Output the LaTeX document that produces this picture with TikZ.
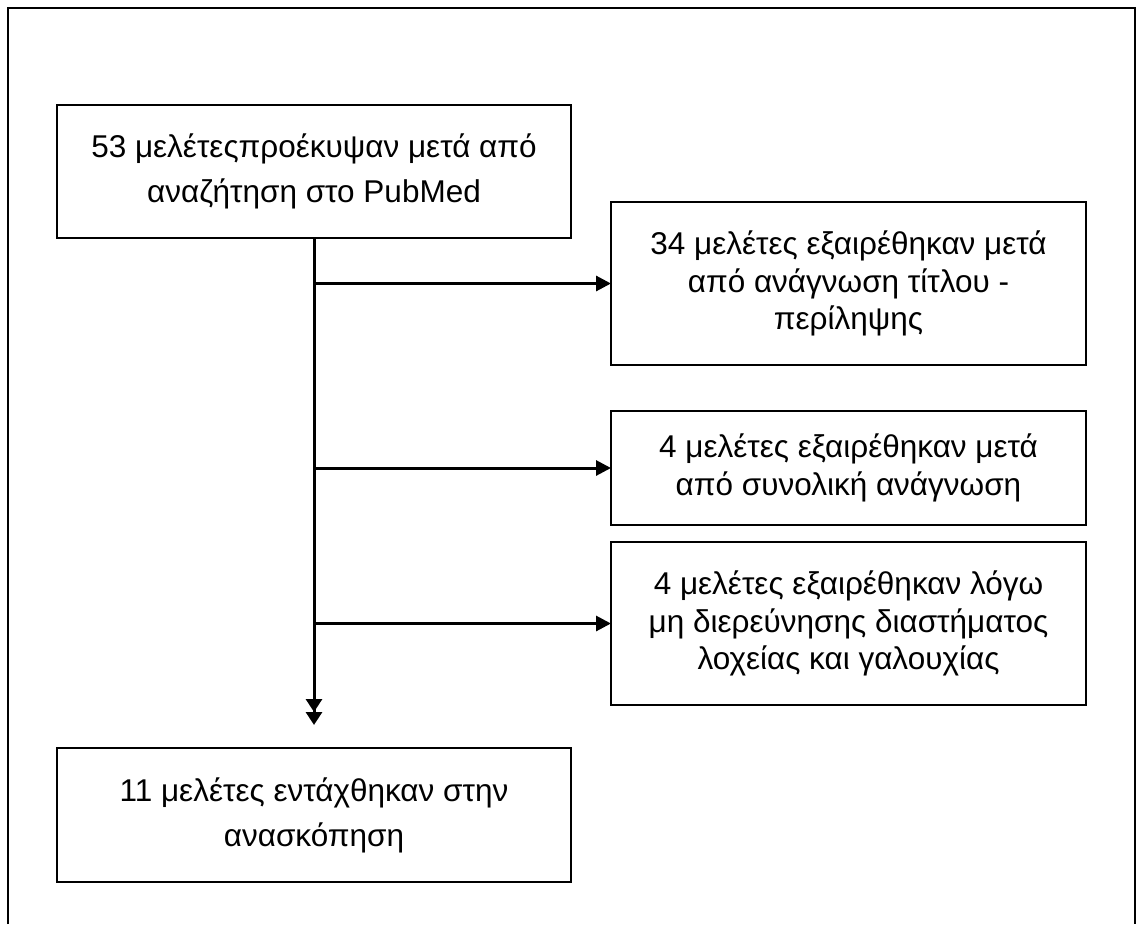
\documentclass[tikz,border=0pt]{standalone}
\usepackage{fontspec}
\setmainfont{Liberation Sans}
\usetikzlibrary{arrows.meta}
\begin{document}
\begin{tikzpicture}[x=1pt,y=-1pt,
  box/.style={draw, line width=2pt, inner sep=0pt, outer sep=0pt, align=center},
  tall/.style={font=\fontsize{31.5}{45}\selectfont},
  tight/.style={font=\fontsize{31.5}{37.5}\selectfont},
  conn/.style={line width=3pt, -{Triangle[length=15pt,width=15pt]}},
  trunk/.style={line width=3pt, -{Triangle[length=13pt,width=16pt]Triangle[length=13pt,width=16pt]}},
  framestyle/.style={line width=1.5pt}]
\useasboundingbox (0,0) rectangle (1138,924);
\draw[framestyle] (8,924) -- (8,8) -- (1135,8) -- (1135,924);
\node[box, tall, minimum width=514pt, minimum height=133pt] (b1) at (314,171.5)
  {53 μελέτεςπροέκυψαν μετά από\\αναζήτηση στο PubMed};
\node[box, tight, minimum width=475pt, minimum height=163pt] (b2) at (848.5,283.5)
  {34 μελέτες εξαιρέθηκαν μετά\\από ανάγνωση τίτλου -\\περίληψης};
\node[box, tight, minimum width=475pt, minimum height=114pt] (b3) at (848.5,468)
  {4 μελέτες εξαιρέθηκαν μετά\\από συνολική ανάγνωση};
\node[box, tight, minimum width=475pt, minimum height=163pt] (b4) at (848.5,623.5)
  {4 μελέτες εξαιρέθηκαν λόγω\\μη διερεύνησης διαστήματος\\λοχείας και γαλουχίας};
\node[box, tall, minimum width=514pt, minimum height=134pt] (b5) at (314,815)
  {11 μελέτες εντάχθηκαν στην\\ανασκόπηση};
\coordinate (tipend) at ([yshift=23pt]b5.north);
\draw[trunk] (b1.south) -- (tipend);
\draw[conn] (b1.center |- b2.west) -- (b2.west);
\draw[conn] (b1.center |- b3.west) -- (b3.west);
\draw[conn] (b1.center |- b4.west) -- (b4.west);
\end{tikzpicture}
\end{document}
